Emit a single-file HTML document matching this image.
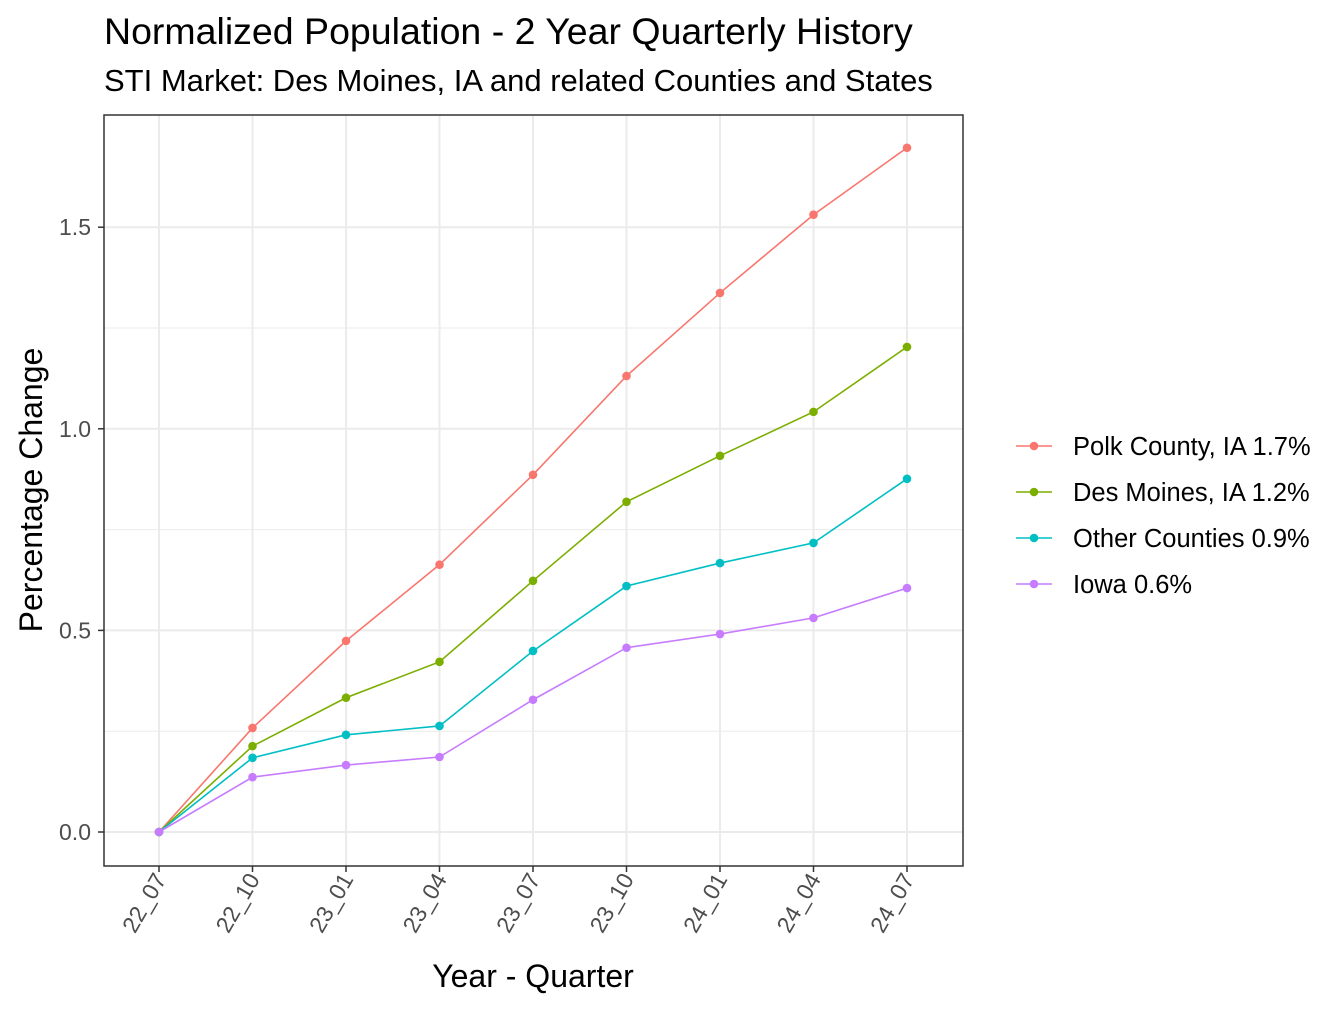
<!DOCTYPE html>
<html><head><meta charset="utf-8"><style>
body{margin:0;background:#fff;}
svg text{font-family:"Liberation Sans",Arial,sans-serif;}
</style></head><body>
<svg id="chart" width="1344" height="1008" xmlns="http://www.w3.org/2000/svg">
<rect width="1344" height="1008" fill="#fff"/>
<text x="104" y="44" font-size="37.5" fill="#000">Normalized Population - 2 Year Quarterly History</text>
<text x="104" y="91" font-size="31" fill="#000">STI Market: Des Moines, IA and related Counties and States</text>
<g id="grid"></g>
<g id="series"></g>
<rect x="104" y="115" width="859" height="751" fill="none" stroke="#333" stroke-width="1.5"/>
<g id="axes"></g>
<text x="533" y="987" font-size="32" text-anchor="middle" fill="#000">Year - Quarter</text>
<text transform="translate(42,490) rotate(-90)" font-size="32" text-anchor="middle" fill="#000">Percentage Change</text>
<g id="legend"></g>
</svg>
<script>
const categories = ["22_07","22_10","23_01","23_04","23_07","23_10","24_01","24_04","24_07"];
const seriesNames = ["Polk County, IA 1.7%","Des Moines, IA 1.2%","Other Counties 0.9%","Iowa 0.6%"];
const polk = [0,0.258,0.474,0.663,0.886,1.131,1.337,1.531,1.697];
const desMoines = [0,0.213,0.333,0.422,0.623,0.819,0.933,1.042,1.203];
const otherCounties = [0,0.184,0.241,0.263,0.449,0.610,0.667,0.717,0.876];
const iowa = [0,0.136,0.166,0.186,0.328,0.457,0.491,0.531,0.605];
const yTicks = [0,0.5,1.0,1.5];
const yTickLabels = ["0.0","0.5","1.0","1.5"];

const colors = ["#F8766D","#7CAE00","#00BFC4","#C77CFF"];
const allSeries = [polk,desMoines,otherCounties,iowa];
const NS="http://www.w3.org/2000/svg";
const xs = i => 159 + i*(907-159)/(categories.length-1);
const ys = v => 832 - v*403.2;
function mk(tag,attrs,parent){const e=document.createElementNS(NS,tag);for(const k in attrs)e.setAttribute(k,attrs[k]);parent.appendChild(e);return e;}
const grid=document.getElementById('grid'), axes=document.getElementById('axes'), ser=document.getElementById('series'), leg=document.getElementById('legend');
mk('rect',{x:104,y:115,width:859,height:751,fill:'#fff'},grid);
for(let i=0;i<yTicks.length-1;i++){const v=(yTicks[i]+yTicks[i+1])/2;const l=mk('line',{x1:104,x2:963,y1:ys(v),y2:ys(v),stroke:'#ebebeb','stroke-width':1},grid);

}
yTicks.forEach((v,i)=>{
const l=mk('line',{x1:104,x2:963,y1:ys(v),y2:ys(v),stroke:'#ebebeb','stroke-width':2},grid);


mk('line',{x1:98,x2:104,y1:ys(v),y2:ys(v),stroke:'#333','stroke-width':1.5},axes);
const t=mk('text',{x:91,y:ys(v)+8,'font-size':23,'text-anchor':'end',fill:'#4d4d4d'},axes);t.textContent=yTickLabels[i];


});
categories.forEach((c,i)=>{
const x=xs(i);
const l=mk('line',{x1:x,x2:x,y1:115,y2:866,stroke:'#ebebeb','stroke-width':2},grid);


mk('line',{x1:x,x2:x,y1:866,y2:872,stroke:'#333','stroke-width':1.5},axes);
const t=mk('text',{transform:`translate(${x+8},${879}) rotate(-60)`,'font-size':23,'text-anchor':'end',fill:'#4d4d4d'},axes);t.textContent=c;


});
allSeries.forEach((s,k)=>{
const g=mk('g',{},ser);


const p=mk('polyline',{points:s.map((v,i)=>xs(i)+','+ys(v)).join(' '),fill:'none',stroke:colors[k],'stroke-width':1.6},g);


s.forEach((v,i)=>{const c=mk('circle',{cx:xs(i),cy:ys(v),r:4.3,fill:colors[k]},g);

});
const ly=446+k*46;
const lg=mk('g',{},leg);


mk('line',{x1:1016,x2:1052,y1:ly,y2:ly,stroke:colors[k],'stroke-width':1.6},lg);
mk('circle',{cx:1034,cy:ly,r:4.3,fill:colors[k]},lg);
const t=mk('text',{x:1073,y:ly+9,'font-size':25.5,fill:'#000'},lg);t.textContent=seriesNames[k];
});
</script>
</body></html>
